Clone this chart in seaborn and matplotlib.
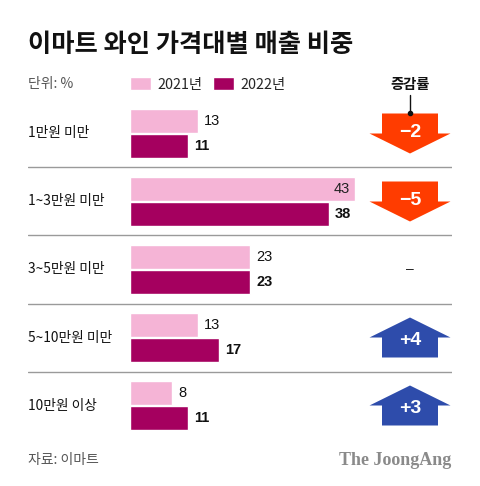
import numpy as np
import pandas as pd
import matplotlib
matplotlib.use('Agg')
import matplotlib.pyplot as plt
import matplotlib.transforms as mtransforms
from matplotlib.patches import Polygon
import seaborn as sns

# data
categories = ['1만원 미만', '1~3만원 미만', '3~5만원 미만', '5~10만원 미만', '10만원 이상']
years = ['2021년', '2022년']
share_2021 = [13, 43, 23, 13, 8]
share_2022 = [11, 38, 23, 17, 11]
change = [-2, -5, 0, 4, 3]

df = pd.DataFrame({
    'category': categories * 2,
    'year': [years[0]] * 5 + [years[1]] * 5,
    'share': share_2021 + share_2022,
})

sns.set_style('white')
plt.rcParams['font.family'] = ['Noto Sans CJK KR', 'DejaVu Sans']
plt.rcParams['axes.unicode_minus'] = False

W, H = 480, 486
fig = plt.figure(figsize=(W / 100, H / 100), dpi=100)
fig.patch.set_facecolor('white')

# axes geometry in pixels
x0_px, x1_px = 28, 452
zero_px = 130
px_per_unit = 5.23
top_px, bottom_px = 99.5, 439.5
ax = fig.add_axes([x0_px / W, 1 - bottom_px / H, (x1_px - x0_px) / W, (bottom_px - top_px) / H])

pink = '#F5B4D6'
dark = '#A5005F'
sns.barplot(data=df, x='share', y='category', hue='year', order=categories,
            hue_order=years, palette=[pink, dark], orient='h', width=0.75, gap=0.06,
            ax=ax, saturation=1, legend=True)

ax.set_xlim(-(zero_px - x0_px) / px_per_unit, (x1_px - zero_px) / px_per_unit)
ax.set_ylim(4.5, -0.5)
ax.axis('off')

# separators
for i in range(len(categories) - 1):
    ax.axhline(i + 0.5, color='#9a9a9a', lw=1)

# category labels
lab_tr = mtransforms.blended_transform_factory(ax.transAxes, ax.transData)
for i, c in enumerate(categories):
    ax.text(0, i, c, transform=lab_tr, ha='left', va='center', fontsize=9.9, color='#111111')

# value labels
num_font = ['Liberation Sans', 'DejaVu Sans']
for cont, vals, weight in zip(ax.containers, [share_2021, share_2022], ['normal', 'bold']):
    for bar, v in zip(cont, vals):
        yc = bar.get_y() + bar.get_height() / 2
        if v == max(share_2021) and weight == 'normal':
            ax.annotate(str(v), (v, yc), xytext=(-3.5, 0), textcoords='offset points',
                        ha='right', va='center', fontsize=10.5, family=num_font,
                        color='#222222', fontweight=weight)
        else:
            ax.annotate(str(v), (v, yc), xytext=(4.5, 0), textcoords='offset points',
                        ha='left', va='center', fontsize=10.5, family=num_font,
                        color='#111111', fontweight=weight)

# legend
handles, labels = ax.get_legend_handles_labels()
ax.legend(handles, labels, loc='center left', bbox_to_anchor=(zero_px / W, 1 - 84.5 / H),
          bbox_transform=fig.transFigure, ncol=2, frameon=False, fontsize=10.3,
          handlelength=1.5, handleheight=0.95, handletextpad=0.4, columnspacing=0.75,
          borderpad=0, borderaxespad=0)

# change arrows (shape in inches, placed at each category)
arrow_x = (410 - x0_px) / (x1_px - x0_px)
sw, hw, hl = 0.28, 0.405, 0.20
down_shape = np.array([[-sw, 0.2], [sw, 0.2], [sw, 0], [hw, 0], [0, -hl], [-hw, 0], [-sw, 0]])
up_shape = down_shape * np.array([1, -1])
for i, d in enumerate(change):
    if d == 0:
        ax.text(arrow_x, i, '–', transform=lab_tr, ha='center', va='center',
                fontsize=10, color='#222222', family=num_font)
        continue
    shape = up_shape if d > 0 else down_shape
    color = '#2E4CAB' if d > 0 else '#FF3C00'
    off = 0.03 if d > 0 else -0.01
    tr = fig.dpi_scale_trans + mtransforms.ScaledTranslation(arrow_x, i, lab_tr)
    ax.add_patch(Polygon(shape, closed=True, transform=tr, facecolor=color,
                         edgecolor='none', clip_on=False))
    txt = f'+{d}' if d > 0 else f'\u2212{abs(d)}'
    ax.text(0, -off, txt, transform=tr, ha='center', va='center', fontsize=14,
            fontweight='bold', color='white', family=num_font)

# header
fig.text(28 / W, 1 - 44 / H, '이마트 와인 가격대별 매출 비중', ha='left', va='center',
         fontsize=18.2, fontweight='heavy', color='#111111')
fig.text(28 / W, 1 - 84 / H, '단위: %', ha='left', va='center', fontsize=10, color='#555555')
fig.text(410 / W, 1 - 85 / H, '증감률', ha='center', va='center', fontsize=10.3,
         fontweight='bold', color='#111111')
fig.add_artist(plt.Line2D([410 / W, 410 / W], [1 - 95 / H, 1 - 113 / H], color='#111111', lw=1))
fig.add_artist(plt.Line2D([410 / W], [1 - 113 / H], marker='o', markersize=3, color='#111111'))

# footer
fig.text(28 / W, 1 - 460 / H, '자료: 이마트', ha='left', va='center', fontsize=10, color='#555555')
fig.text(451 / W, 1 - 460 / H, 'The JoongAng', ha='right', va='center', fontsize=13,
         fontweight='bold', color='#8a8a8a', family=['Liberation Serif', 'DejaVu Serif'])

fig.savefig('out.png', dpi=100, facecolor='white')
